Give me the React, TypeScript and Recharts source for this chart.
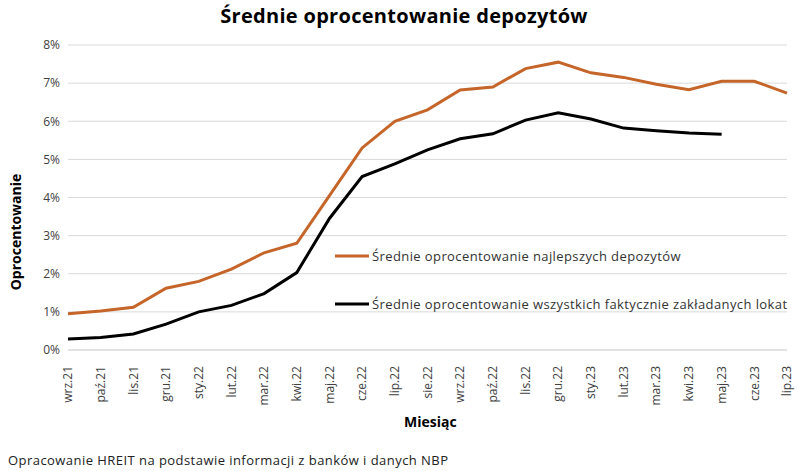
import React from "react";
import { CartesianGrid, Legend, Line, LineChart, XAxis, YAxis } from "recharts";

const months = [
  "wrz.21", "paź.21", "lis.21", "gru.21", "sty.22", "lut.22", "mar.22", "kwi.22",
  "maj.22", "cze.22", "lip.22", "sie.22", "wrz.22", "paź.22", "lis.22", "gru.22",
  "sty.23", "lut.23", "mar.23", "kwi.23", "maj.23", "cze.23", "lip.23",
];

// Średnie oprocentowanie najlepszych depozytów (%)
const bestDeposits = [
  0.95, 1.02, 1.12, 1.62, 1.8, 2.12, 2.55, 2.8, 4.05, 5.3, 6.0, 6.3, 6.82, 6.9,
  7.38, 7.55, 7.27, 7.15, 6.97, 6.83, 7.05, 7.05, 6.74,
];

// Średnie oprocentowanie wszystkich faktycznie zakładanych lokat (%)
const allDeposits = [
  0.29, 0.33, 0.42, 0.68, 1.0, 1.17, 1.48, 2.03, 3.45, 4.55, 4.88, 5.25, 5.54,
  5.67, 6.03, 6.22, 6.06, 5.82, 5.75, 5.69, 5.66, null, null,
];

const yTicks = [0, 1, 2, 3, 4, 5, 6, 7, 8];

const ORANGE = "#C5652A";
const FONT = "'Open Sans', 'Noto Sans', sans-serif";

const data = months.map((m, i) => ({
  month: m,
  best: bestDeposits[i],
  all: allDeposits[i],
}));

function MonthTick({ x, y, payload }: any) {
  return (
    <text
      x={x}
      y={y + 8}
      transform={`rotate(-90, ${x}, ${y + 8})`}
      textAnchor="end"
      dy="0.35em"
      fontSize={12}
      fontFamily={FONT}
      fill="#404040"
    >
      {payload.value}
    </text>
  );
}

function LegendBox() {
  const rows = [
    { color: ORANGE, label: "Średnie oprocentowanie najlepszych depozytów" },
    { color: "#000000", label: "Średnie oprocentowanie wszystkich faktycznie zakładanych lokat" },
  ];
  return (
    <div style={{ fontFamily: FONT, fontSize: 13, letterSpacing: 0.4, color: "#333" }}>
      {rows.map((r) => (
        <div key={r.label} style={{ display: "flex", alignItems: "center", height: 24, marginBottom: 24, whiteSpace: "nowrap" }}>
          <svg width={34} height={6} style={{ marginRight: 3 }}>
            <line x1={0} y1={3} x2={34} y2={3} stroke={r.color} strokeWidth={3} />
          </svg>
          <span>{r.label}</span>
        </div>
      ))}
    </div>
  );
}

export default function App() {
  return (
    <div style={{ position: "absolute", left: 0, top: 0, width: 800, height: 471, background: "#fff", fontFamily: FONT }}>
      <div style={{ position: "absolute", top: 2, left: 4, width: 800, textAlign: "center", fontSize: 20, letterSpacing: 0.3, fontWeight: 700, color: "#000" }}>
        Średnie oprocentowanie depozytów
      </div>
      <LineChart width={800} height={471} data={data} margin={{ top: 45, right: 13, left: 0, bottom: 71 }}>
        <CartesianGrid vertical={false} stroke="#D9D9D9" strokeWidth={1} />
        <XAxis
          dataKey="month"
          interval={0}
          height={50}
          tick={<MonthTick />}
          tickLine={false}
          axisLine={{ stroke: "#D9D9D9" }}
        />
        <YAxis
          width={68}
          domain={[0, 8]}
          ticks={yTicks}
          tickFormatter={(v: number) => `${v}%`}
          tick={{ fontSize: 12, fill: "#404040", fontFamily: FONT }}
          tickLine={false}
          axisLine={false}
        />
        <Legend
          layout="vertical"
          align="center"
          verticalAlign="middle"
          content={<LegendBox />}
          wrapperStyle={{ left: 335, top: 244, width: 465 }}
        />
        <Line type="linear" dataKey="best" stroke={ORANGE} strokeWidth={3} dot={false} isAnimationActive={false} />
        <Line type="linear" dataKey="all" stroke="#000000" strokeWidth={3} dot={false} isAnimationActive={false} />
      </LineChart>
      <div
        style={{
          position: "absolute",
          left: 15,
          top: 232,
          transform: "translate(-50%, -50%) rotate(-90deg)",
          fontSize: 14,
          fontWeight: 700,
          whiteSpace: "nowrap",
        }}
      >
        Oprocentowanie
      </div>
      <div style={{ position: "absolute", left: 404, top: 412, fontSize: 14, fontWeight: 700 }}>Miesiąc</div>
      <div style={{ position: "absolute", left: 8, top: 451, fontSize: 13, letterSpacing: 0.45, color: "#222", whiteSpace: "nowrap" }}>
        Opracowanie HREIT na podstawie informacji z banków i danych NBP
      </div>
    </div>
  );
}
